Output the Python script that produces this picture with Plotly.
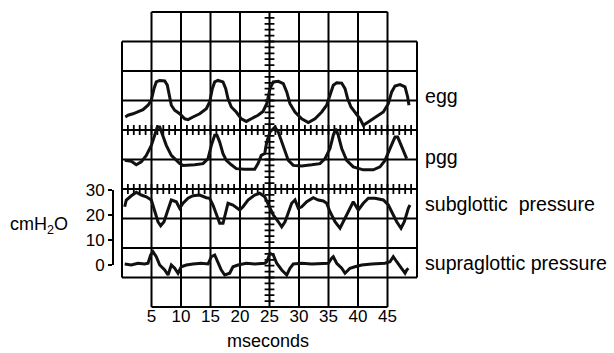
import numpy as np
import plotly.graph_objects as go

# ---------------- data ----------------
# time in ms; egg / pgg in graticule divisions; pressures in cmH2O
egg_t = [0.56, 1.02, 1.86, 2.71, 3.56, 4.41, 4.97, 5.42, 5.81, 6.39, 7.24, 7.68, 7.97, 8.36, 8.93,
         9.78, 10.63, 11.19, 12.03, 13.17, 14.29, 14.86, 15.31, 15.71, 16.27, 17.12, 17.58, 17.97,
         18.53, 19.37, 20.22, 21.07, 21.92, 23.05, 23.90, 24.53, 25.08, 25.64, 26.49, 27.34, 27.92,
         28.47, 29.32, 30.46, 31.58, 32.71, 33.85, 34.69, 35.25, 35.81, 36.39, 37.24, 37.80, 38.25,
         38.81, 39.49, 40.34, 40.90, 41.75, 42.88, 44.29, 45.14, 45.71, 46.27, 47.12, 47.97, 48.42, 48.64]
egg_v = [6.44, 6.50, 6.55, 6.61, 6.69, 6.84, 7.01, 7.40, 7.63, 7.68, 7.66, 7.52, 7.18, 6.84, 6.67,
         6.55, 6.38, 6.35, 6.44, 6.55, 6.72, 6.95, 7.40, 7.63, 7.68, 7.63, 7.40, 7.06,
         6.78, 6.61, 6.38, 6.29, 6.38, 6.50, 6.63, 6.89, 7.40, 7.63, 7.65, 7.57, 7.29,
         6.89, 6.61, 6.38, 6.25, 6.38, 6.61, 6.84, 7.18, 7.52, 7.60, 7.59, 7.40, 7.06,
         6.78, 6.61, 6.38, 6.16, 6.27, 6.44, 6.61, 6.89, 7.29, 7.49, 7.54, 7.46, 7.12, 6.84]

pgg_t = [0.46, 1.58, 2.42, 3.27, 4.12, 4.97, 5.54, 5.98, 6.39, 6.95, 7.51, 8.36, 9.20, 9.78, 10.34,
         11.19, 12.32, 13.73, 14.58, 15.14, 15.71, 16.10, 16.56, 17.12, 17.68, 18.53, 19.37, 20.80,
         22.49, 23.05, 23.61, 24.19, 24.53, 25.08, 25.93, 26.49, 27.07, 27.63, 28.19, 29.03, 30.46,
         32.15, 33.56, 34.41, 35.25, 35.81, 36.22, 36.66, 37.24, 38.08, 39.20, 40.90, 42.59, 43.73,
         44.58, 45.42, 46.27, 46.73, 47.41, 48.25]
pgg_v = [4.97, 4.94, 4.82, 4.92, 5.14, 5.48, 5.82, 6.10, 6.10, 5.82, 5.48, 5.14, 4.97, 4.86, 4.80,
         4.80, 4.82, 4.86, 5.03, 5.48, 5.82, 5.82, 5.59, 5.20, 4.97, 4.82, 4.69, 4.67,
         4.67, 4.86, 5.14, 5.20, 5.59, 5.93, 6.10, 5.93, 5.59, 5.25, 4.97, 4.80, 4.78,
         4.82, 4.86, 5.03, 5.37, 5.82, 6.04, 5.82, 5.37, 4.97, 4.75, 4.65, 4.65, 4.75,
         4.97, 5.37, 5.76, 5.76, 5.42, 5.03]

sub_t = [0.46, 0.73, 1.58, 2.42, 3.27, 4.12, 4.97, 5.54, 6.10, 6.56, 7.12, 7.68, 8.36, 9.20, 9.78,
         10.34, 11.19, 12.03, 13.17, 14.29, 14.86, 15.42, 15.98, 16.56, 17.12, 17.51, 17.97, 18.81,
         19.95, 20.51, 21.36, 22.49, 23.34, 24.19, 24.80, 25.64, 26.49, 27.07, 27.63, 28.19, 28.76,
         29.32, 29.88, 30.46, 31.31, 32.42, 33.27, 34.12, 34.69, 35.25, 36.10, 36.95, 37.51, 38.36,
         39.20, 40.05, 40.90, 41.75, 42.88, 44.29, 45.14, 45.71, 46.56, 47.29, 47.85, 48.53, 48.81]
sub_v = [23.3, 26.0, 27.7, 29.1, 28.0, 27.3, 26.0, 21.3, 17.3, 15.7, 17.3, 21.3, 26.0, 25.3, 22.7,
         24.7, 26.7, 27.7, 28.0, 26.9, 26.7, 24.0, 20.7, 16.7, 16.7, 20.7, 24.7, 24.0,
         22.0, 23.3, 26.0, 28.0, 28.7, 27.3, 24.0, 20.0, 17.3, 15.3, 17.3, 21.3, 24.7,
         26.0, 22.7, 23.3, 25.3, 26.9, 26.0, 25.6, 24.7, 21.3, 17.3, 14.7, 17.3, 21.3,
         25.3, 22.0, 24.7, 26.7, 26.7, 26.0, 24.0, 21.3, 17.3, 14.7, 17.3, 22.7, 24.0]

supra_t = [0.46, 1.58, 2.71, 3.85, 4.41, 4.86, 5.25, 5.81, 6.39, 7.24, 7.80, 8.36, 8.93, 9.49, 10.05,
           10.90, 12.03, 13.44, 14.58, 15.14, 15.71, 16.27, 16.83, 17.41, 18.25, 18.81, 19.66, 21.07,
           22.49, 24.19, 24.53, 25.08, 25.64, 26.22, 27.07, 27.92, 28.47, 29.03, 30.46, 32.15, 33.85,
           34.97, 35.54, 35.81, 36.39, 37.24, 37.80, 38.64, 39.49, 40.63, 42.32, 44.58, 45.42, 45.98,
           46.56, 47.41, 47.97, 48.25, 48.53]
supra_v = [0.4, 0.0, 0.7, 0.4, 0.7, 4.0, 5.3, 3.3, 0.0, -2.0, -4.0, 0.0, -1.3, -3.3, -0.7,
           0.0, 0.4, 0.7, 0.4, 3.3, 4.0, 0.7, -2.0, -4.0, -3.3, -0.7, 0.0, 0.7,
           0.4, 0.7, 1.3, 4.7, 4.0, 0.7, -2.0, -4.0, -1.3, 0.4, 0.7, 0.4, 0.4,
           0.7, 2.7, 3.3, 0.7, -1.3, -3.3, -1.3, -0.7, 0.0, 0.4, 0.7, 1.3, 3.3,
           1.3, -1.3, -3.3, -2.0, -1.3]

time_ticks = [5, 10, 15, 20, 25, 30, 35, 40, 45]
pressure_ticks = [0, 10, 20, 30]
trace_labels = ["egg", "pgg", "subglottic\u00a0 pressure", "supraglottic pressure"]
label_rows_px = [96, 157, 204, 263]   # vertical position of each label (px)

# ---------------- layout geometry ----------------
W, H = 614, 353
FONT = "Liberation Sans, Arial, Helvetica, sans-serif"
X0_PX, X50_PX = 122.0, 417.0          # pixel of 0 ms and 50 ms
YD0_PX, YD10_PX = 307.0, 12.0         # pixel of division 0 and 10
P0_PX, P30_PX = 265.0, 190.0          # pixel of 0 and 30 cmH2O
pxx = (X50_PX - X0_PX) / 50.0
pxy = (YD0_PX - YD10_PX) / 10.0
PADX, PADY = 0.6, 0.12
xr = [-PADX, 50 + PADX]
yr = [-PADY, 10 + PADY]
x_left = X0_PX - PADX * pxx
x_right = X50_PX + PADX * pxx
y_bot = YD0_PX + PADY * pxy
y_top = YD10_PX - PADY * pxy
ppc = (P0_PX - P30_PX) / 30.0
y2r = [(P0_PX - y_bot) / ppc, (P0_PX - y_top) / ppc]

fig = go.Figure()

# grid (graticule) as shapes
shapes = []
LW = 2.0
for gx in range(0, 51, 5):
    if gx in (0, 50):
        shapes.append(dict(type="line", x0=gx, x1=gx, y0=1, y1=9))
    else:
        shapes.append(dict(type="line", x0=gx, x1=gx, y0=0, y1=10))
for gy in range(0, 11):
    if gy in (0, 10):
        shapes.append(dict(type="line", x0=5, x1=45, y0=gy, y1=gy))
    else:
        shapes.append(dict(type="line", x0=0, x1=50, y0=gy, y1=gy))
for s in shapes:
    s.update(xref="x", yref="y", line=dict(color="black", width=LW), layer="below")

# minor ticks on centre graticule lines
minor_x = np.arange(0, 50.01, 1.0)
for gy in (4, 6):
    fig.add_trace(go.Scatter(x=minor_x, y=[gy] * len(minor_x), mode="markers",
                             marker=dict(symbol="line-ns", size=7, line=dict(width=1.8, color="black")),
                             hoverinfo="skip", showlegend=False))
minor_y = np.arange(0, 10.01, 0.2)
fig.add_trace(go.Scatter(x=[25] * len(minor_y), y=minor_y, mode="markers",
                         marker=dict(symbol="line-ew", size=7, line=dict(width=1.8, color="black")),
                         hoverinfo="skip", showlegend=False))

tr_line = dict(color="#111111", width=3.0)
fig.add_trace(go.Scatter(x=egg_t, y=egg_v, mode="lines", line=tr_line, name="egg", showlegend=False))
fig.add_trace(go.Scatter(x=pgg_t, y=pgg_v, mode="lines", line=tr_line, name="pgg", showlegend=False))
fig.add_trace(go.Scatter(x=sub_t, y=sub_v, mode="lines", line=tr_line, yaxis="y2",
                         name="subglottic pressure", showlegend=False))
fig.add_trace(go.Scatter(x=supra_t, y=supra_v, mode="lines", line=tr_line, yaxis="y2",
                         name="supraglottic pressure", showlegend=False))
# invisible trace to create the pressure scale axis
fig.add_trace(go.Scatter(x=[0], y=[15], yaxis="y3", mode="markers", marker=dict(opacity=0),
                         showlegend=False, hoverinfo="skip"))

annotations = []
for lab, ypx in zip(trace_labels, label_rows_px):
    annotations.append(dict(text=lab, x=423 / W, y=1 - ypx / H, xref="paper", yref="paper",
                            xanchor="left", yanchor="middle", showarrow=False,
                            font=dict(size=19.6, color="black", family=FONT)))
annotations.append(dict(text="mseconds", x=268 / W, y=1 - 341 / H, xref="paper", yref="paper",
                        xanchor="center", yanchor="middle", showarrow=False,
                        font=dict(size=18, color="black", family=FONT)))
annotations.append(dict(text="cmH<sub>2</sub>O", x=39 / W, y=1 - 225 / H, xref="paper", yref="paper",
                        xanchor="center", yanchor="middle", showarrow=False,
                        font=dict(size=18, color="black", family=FONT)))

fig.update_layout(
    width=W, height=H,
    margin=dict(l=0, r=0, t=0, b=0, autoexpand=False),
    paper_bgcolor="white", plot_bgcolor="rgba(0,0,0,0)",
    font=dict(family=FONT, color="black"),
    shapes=shapes,
    annotations=annotations,
    xaxis=dict(domain=[x_left / W, x_right / W], range=xr, showgrid=False, zeroline=False,
               showline=False, tickvals=time_ticks, ticks="", tickfont=dict(size=17),
               ticklabelstandoff=-7, automargin=False, fixedrange=True),
    yaxis=dict(domain=[1 - y_bot / H, 1 - y_top / H], range=yr, visible=False,
               automargin=False, fixedrange=True),
    yaxis2=dict(overlaying="y", range=y2r, visible=False, automargin=False, fixedrange=True),
    yaxis3=dict(domain=[1 - P0_PX / H, 1 - P30_PX / H], range=[0, 30], anchor="free",
                position=113 / W, side="left", showgrid=False, zeroline=False,
                showline=True, linecolor="black", linewidth=1.8,
                tickvals=pressure_ticks, ticks="outside", ticklen=4, tickwidth=1.8,
                tickcolor="black", tickfont=dict(size=17), automargin=False, fixedrange=True),
)

fig.write_html("out.html")
